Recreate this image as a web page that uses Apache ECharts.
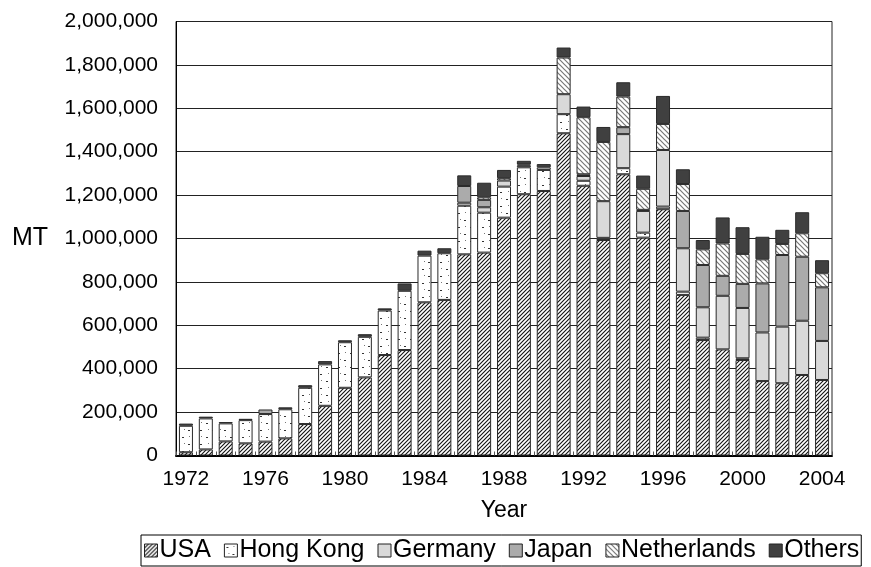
<!DOCTYPE html>
<html><head><meta charset="utf-8">
<script src="https://cdn.jsdelivr.net/npm/echarts@6/dist/echarts.min.js"></script>
<style>html,body{margin:0;padding:0;background:#fff}#c{width:871px;height:567px}</style>
</head><body><div id="c"></div>
<script>
const years = ['1972','1973','1974','1975','1976','1977','1978','1979','1980','1981','1982','1983','1984','1985','1986','1987','1988','1989','1990','1991','1992','1993','1994','1995','1996','1997','1998','1999','2000','2001','2002','2003','2004'];
const usa = [15000,28000,65000,56000,64000,79000,145000,229000,312000,360000,463000,486000,706000,717000,927000,935000,1096000,1204000,1219000,1485000,1243000,993000,1296000,1004000,1135000,740000,532000,489000,440000,343000,333000,371000,348000];
const hongKong = [122000,143000,83000,107000,127000,134000,167000,191000,210000,187000,205000,273000,215000,215000,224000,184000,143000,124000,97000,88000,23000,10000,28000,23000,12000,15000,11000,0,8000,0,0,0,0];
const germany = [0,0,0,0,0,0,0,0,0,0,0,0,0,0,14000,25000,28000,8000,12000,92000,22000,169000,157000,100000,261000,200000,140000,247000,232000,224000,261000,250000,180000];
const japan = [0,0,0,6000,21000,0,0,0,0,0,0,0,0,0,77000,34000,0,0,0,0,8000,0,32000,5000,0,172000,195000,92000,111000,226000,330000,295000,247000];
const netherlands = [0,0,0,0,0,0,0,0,0,0,0,0,0,0,0,12000,11000,5000,0,169000,263000,273000,141000,97000,120000,124000,72000,149000,138000,111000,51000,108000,65000];
const others = [10000,8000,6000,0,0,9000,12000,15000,9000,12000,10000,34000,23000,23000,49000,67000,38000,17000,15000,46000,49000,69000,66000,61000,129000,68000,43000,120000,123000,104000,65000,97000,60000];
const yTicks = [0,200000,400000,600000,800000,1000000,1200000,1400000,1600000,1800000,2000000];

function hatch(size, dir, lineColor, lw) {
  const c = document.createElement('canvas'); c.width = c.height = size;
  const g = c.getContext('2d'); g.fillStyle = '#fff'; g.fillRect(0,0,size,size);
  g.strokeStyle = lineColor; g.lineWidth = lw; g.beginPath();
  if (dir > 0) {
    g.moveTo(-size, size); g.lineTo(size, -size);
    g.moveTo(0, size); g.lineTo(size, 0);
    g.moveTo(0, 2*size); g.lineTo(2*size, 0);
  } else {
    g.moveTo(0, 0); g.lineTo(size, size);
    g.moveTo(-size, 0); g.lineTo(size, 2*size);
    g.moveTo(0, -size); g.lineTo(2*size, size);
  }
  g.stroke(); return c;
}
function dots() {
  const c = document.createElement('canvas'); c.width = 12; c.height = 14;
  const g = c.getContext('2d'); g.fillStyle = '#fff'; g.fillRect(0,0,12,14);
  g.fillStyle = '#333'; g.fillRect(2,3,2,1); g.fillRect(8,10,2,1); g.fillStyle='#777'; g.fillRect(9,2,1,1); g.fillRect(4,9,1,1);
  return c;
}
const pUSA = {image: hatch(4, 1, '#111', 1.1), repeat: 'repeat'};
const pHK = {image: dots(), repeat: 'repeat'};
const pNL = {image: hatch(5, -1, '#777', 1.2), repeat: 'repeat'};

const names = ['USA','Hong Kong','Germany','Japan','Netherlands','Others'];
const datas = [usa, hongKong, germany, japan, netherlands, others];
const colors = [pUSA, pHK, '#d9d9d9', '#ababab', pNL, '#404040'];

const series = names.map((n, i) => ({
  name: n, type: 'bar', stack: 'all', barWidth: 14,
  data: datas[i].map(v => v === 0 ? null : v),
  itemStyle: {color: colors[i], borderColor: '#2a2a2a', borderWidth: 1},
  emphasis: {disabled: true}
}));

const chart = echarts.init(document.getElementById('c'), null, {renderer: 'canvas'});
chart.setOption({
  animation: false,
  textStyle: {fontFamily: 'Liberation Sans, Arial, sans-serif'},
  grid: {left: 176, top: 21.5, width: 656, height: 434, show: true, borderColor: '#222', borderWidth: 1},
  legend: {
    data: names, left: 141, top: 535, itemWidth: 13, itemHeight: 13, itemGap: 13,
    borderColor: '#000', borderWidth: 1, padding: [3, 2, 3, 3],
    textStyle: {fontSize: 25, color: '#000', fontFamily: 'Liberation Sans, Arial, sans-serif', padding: [0,0,0,-3]},
    icon: 'rect', itemStyle: {borderColor: '#222', borderWidth: 1}
  },
  xAxis: {
    type: 'category', data: years,
    name: 'Year', nameLocation: 'middle', nameGap: 44,
    nameTextStyle: {fontSize: 23, color: '#000'},
    axisLine: {lineStyle: {color: '#000', width: 2}},
    axisTick: {show: true, inside: true, length: 4, interval: 0, lineStyle: {color: '#555'}},
    axisLabel: {interval: 3, fontSize: 21, color: '#000', margin: 13}
  },
  yAxis: {
    type: 'value', min: yTicks[0], max: yTicks[yTicks.length-1], interval: 200000,
    axisLine: {show: true, lineStyle: {color: '#000', width: 1}},
    axisTick: {show: false},
    axisLabel: {fontSize: 21, color: '#000', margin: 18, formatter: v => v.toLocaleString('en-US')},
    splitLine: {lineStyle: {color: '#222', width: 1}}
  },
  graphic: [{type: 'text', left: 12, top: 226, style: {text: 'MT', fontSize: 25, fill: '#000', fontFamily: 'Liberation Sans, Arial, sans-serif'}}],
  series: series
});
</script></body></html>
